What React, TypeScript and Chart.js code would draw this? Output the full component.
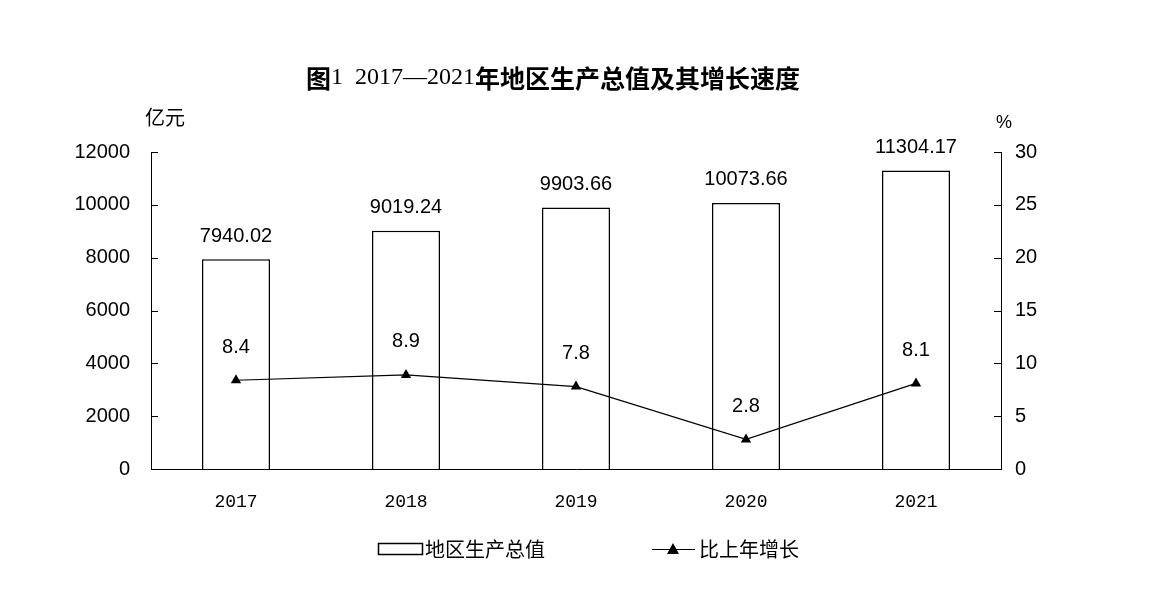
import React, { useEffect, useRef } from "react";
import { Chart, registerables } from "chart.js";

Chart.register(...registerables);

const years = ["2017", "2018", "2019", "2020", "2021"];
const gdpValues = [7940.02, 9019.24, 9903.66, 10073.66, 11304.17];
const gdpLabels = ["7940.02", "9019.24", "9903.66", "10073.66", "11304.17"];
const growthValues = [8.4, 8.9, 7.8, 2.8, 8.1];
const growthLabels = ["8.4", "8.9", "7.8", "2.8", "8.1"];
const leftTicks = [0, 2000, 4000, 6000, 8000, 10000, 12000];
const rightTicks = [0, 5, 10, 15, 20, 25, 30];

const titleParts: [string, string][] = [
  ["图", "bold 25px 'Noto Sans CJK SC'"],
  ["1\u00a0\u00a02017—2021", "24px 'Liberation Serif'"],
  ["年地区生产总值及其增长速度", "bold 25px 'Noto Sans CJK SC'"],
];

const SANS = "'Liberation Sans', Arial, sans-serif";
const CJK = "'Noto Sans CJK SC', sans-serif";

const overlay = {
  id: "overlay",
  afterDatasetsDraw(chart: any) {
    const ctx = chart.ctx;
    const ca = chart.chartArea;
    const yl = chart.scales.y;
    const yr = chart.scales.y1;
    ctx.save();
    // inward ticks
    ctx.strokeStyle = "#000";
    ctx.lineWidth = 1;
    ctx.beginPath();
    leftTicks.forEach((v) => {
      const py = Math.round(yl.getPixelForValue(v)) + 0.5;
      ctx.moveTo(ca.left, py);
      ctx.lineTo(ca.left + 7, py);
    });
    rightTicks.forEach((v) => {
      const py = Math.round(yr.getPixelForValue(v)) + 0.5;
      ctx.moveTo(ca.right, py);
      ctx.lineTo(ca.right - 7, py);
    });
    ctx.stroke();

    // data labels
    ctx.fillStyle = "#000";
    ctx.textAlign = "center";
    ctx.textBaseline = "middle";
    ctx.font = `20px ${SANS}`;
    const barMeta = chart.getDatasetMeta(0);
    barMeta.data.forEach((el: any, i: number) => {
      ctx.fillText(gdpLabels[i], el.x, el.y - 23);
    });
    const lineMeta = chart.getDatasetMeta(1);
    lineMeta.data.forEach((el: any, i: number) => {
      ctx.fillText(growthLabels[i], el.x, el.y - 33);
    });

    // unit labels
    ctx.font = `20px ${CJK}`;
    ctx.fillText("亿元", 165, 117);
    ctx.font = `18px ${SANS}`;
    ctx.fillText("%", 1004, 123);

    // title
    let total = 0;
    titleParts.forEach(([t, f]) => {
      ctx.font = f;
      total += ctx.measureText(t).width;
    });
    let x = 553 - total / 2;
    ctx.textAlign = "left";
    titleParts.forEach(([t, f]) => {
      ctx.font = f;
      ctx.fillText(t, x, 78);
      x += ctx.measureText(t).width;
    });

    // legend
    ctx.lineWidth = 1.5;
    ctx.strokeStyle = "#000";
    ctx.strokeRect(378.5, 543.5, 44, 11);
    ctx.font = `20px ${CJK}`;
    ctx.fillText("地区生产总值", 425, 549);
    ctx.lineWidth = 1.2;
    ctx.beginPath();
    ctx.moveTo(652, 549.5);
    ctx.lineTo(695, 549.5);
    ctx.stroke();
    ctx.beginPath();
    ctx.moveTo(673, 543);
    ctx.lineTo(679, 554);
    ctx.lineTo(667, 554);
    ctx.closePath();
    ctx.fillStyle = "#000";
    ctx.fill();
    ctx.fillText("比上年增长", 699, 549);
    ctx.restore();
  },
};

export default function App() {
  const ref = useRef<HTMLCanvasElement>(null);
  useEffect(() => {
    const chart = new Chart(ref.current as HTMLCanvasElement, {
      type: "bar",
      data: {
        labels: years,
        datasets: [
          {
            type: "bar",
            label: "地区生产总值",
            data: gdpValues,
            backgroundColor: "#fff",
            borderColor: "#000",
            borderWidth: 1.5,
            barPercentage: 0.4,
            categoryPercentage: 1,
            yAxisID: "y",
            order: 1,
          },
          {
            type: "line",
            label: "比上年增长",
            data: growthValues,
            borderColor: "#000",
            borderWidth: 1.2,
            backgroundColor: "#000",
            pointStyle: "triangle",
            pointRadius: 6,
            pointBackgroundColor: "#000",
            pointBorderColor: "#000",
            pointBorderWidth: 0,
            tension: 0,
            yAxisID: "y1",
            order: 0,
          },
        ],
      },
      options: {
        responsive: false,
        animation: false,
        devicePixelRatio: 1,
        layout: { padding: { top: 152, left: 0, right: 0, bottom: 0 } },
        plugins: {
          legend: { display: false },
          title: { display: false },
          tooltip: { enabled: false },
        },
        scales: {
          x: {
            grid: { display: false, drawTicks: false },
            border: { display: true, color: "#000", width: 1 },
            ticks: {
              color: "#000",
              font: { family: "'Liberation Mono', monospace", size: 18 },
              padding: 22,
            },
            afterFit: (s: any) => {
              s.height = 121;
            },
          },
          y: {
            position: "left",
            min: 0,
            max: 12000,
            grid: { display: false, drawTicks: false },
            border: { display: true, color: "#000", width: 1 },
            ticks: {
              stepSize: 2000,
              color: "#000",
              font: { family: SANS, size: 20 },
              padding: 21,
              callback: (v: any) => String(v),
            },
            afterFit: (s: any) => {
              s.width = 151;
            },
          },
          y1: {
            position: "right",
            min: 0,
            max: 30,
            grid: { display: false, drawTicks: false },
            border: { display: true, color: "#000", width: 1 },
            ticks: {
              stepSize: 5,
              color: "#000",
              font: { family: SANS, size: 20 },
              padding: 14,
              callback: (v: any) => String(v),
            },
            afterFit: (s: any) => {
              s.width = 172;
            },
          },
        },
      },
      plugins: [overlay],
    } as any);
    return () => chart.destroy();
  }, []);
  return (
    <div style={{ position: "fixed", left: 0, top: 0, width: 1173, height: 590, background: "#fff" }}>
      <canvas ref={ref} width={1173} height={590} />
    </div>
  );
}
